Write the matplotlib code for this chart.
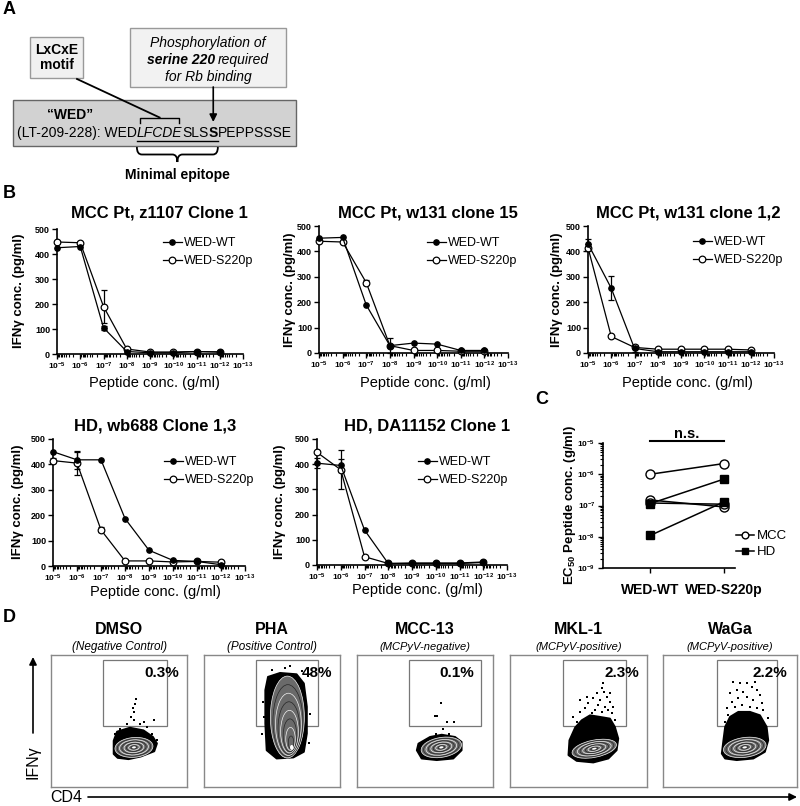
import numpy as np
import matplotlib
matplotlib.use('Agg')
import matplotlib.pyplot as plt
from matplotlib.patches import Rectangle, Ellipse, PathPatch, Polygon
from matplotlib.path import Path
from matplotlib.ticker import LogLocator, NullFormatter, FuncFormatter

plt.rcParams['font.family'] = ['Liberation Sans', 'DejaVu Sans']
plt.rcParams['mathtext.fontset'] = 'custom'
plt.rcParams['mathtext.rm'] = 'Liberation Sans'
plt.rcParams['mathtext.it'] = 'Liberation Sans:italic'
plt.rcParams['mathtext.bf'] = 'Liberation Sans:bold'

### data, panel B (IFNg pg/ml vs peptide g/ml)
conc = [1e-5, 1e-6, 1e-7, 1e-8, 1e-9, 1e-10, 1e-11, 1e-12]
xticks_b = [1e-5, 1e-6, 1e-7, 1e-8, 1e-9, 1e-10, 1e-11, 1e-12, 1e-13]
yticks_b = [0, 100, 200, 300, 400, 500]
titles_b = ['MCC Pt, z1107 Clone 1', 'MCC Pt, w131 clone 15', 'MCC Pt, w131 clone 1,2',
            'HD, wb688 Clone 1,3', 'HD, DA11152 Clone 1']
wt_1 = [425, 430, 105, 10, 5, 5, 10, 8]
wt_1_err = [0, 0, 8, 0, 0, 0, 0, 0]
s_1 = [448, 445, 190, 20, 8, 8, 10, 8]
s_1_err = [0, 0, 65, 0, 0, 0, 0, 0]
wt_2 = [452, 455, 189, 29, 39, 35, 10, 10]
wt_2_err = [0, 0, 0, 0, 0, 0, 0, 0]
s_2 = [440, 437, 277, 29, 10, 10, 7, 7]
s_2_err = [0, 0, 10, 30, 0, 0, 0, 0]
wt_3 = [430, 255, 18, 5, 5, 5, 5, 5]
wt_3_err = [20, 48, 15, 0, 0, 0, 0, 0]
s_3 = [415, 65, 22, 15, 15, 15, 15, 12]
s_3_err = [15, 0, 0, 0, 0, 0, 0, 0]
wt_4 = [450, 418, 418, 187, 62, 22, 18, 5]
wt_4_err = [0, 35, 0, 0, 0, 0, 0, 0]
s_4 = [415, 405, 142, 20, 20, 16, 18, 15]
s_4_err = [10, 45, 10, 0, 0, 0, 0, 0]
wt_5 = [404, 395, 139, 6, 6, 6, 6, 10]
wt_5_err = [20, 25, 0, 0, 0, 0, 0, 0]
s_5 = [447, 378, 33, 6, 8, 8, 8, 12]
s_5_err = [0, 78, 0, 0, 0, 0, 0, 0]

### data, panel C (EC50)
cats_c = ['WED-WT', 'WED-S220p']
yticks_c = [1e-9, 1e-8, 1e-7, 1e-6, 1e-5]
mcc_wt = [1.0e-6, 1.5e-7, 1.2e-7]
mcc_s = [2.2e-6, 9.0e-8, 1.1e-7]
hd_wt = [1.1e-8, 1.15e-7]
hd_s = [1.3e-7, 7.0e-7]

### data, panel D (flow plots, axes fraction units)
flow_names = ['DMSO', 'PHA', 'MCC-13', 'MKL-1', 'WaGa']
flow_sub = ['(Negative Control)', '(Positive Control)', '(MCPyV-negative)', '(MCPyV-positive)', '(MCPyV-positive)']
flow_pct = ['0.3%', '48%', '0.1%', '2.3%', '2.2%']
pct_right = [0.94, 0.94, 0.86, 0.94, 0.93]
gate_left = [0.38, 0.38, 0.38, 0.385, 0.40]
gate_right = [0.85, 0.84, 0.915, 0.85, 0.85]
gate_bottom = [0.46, 0.46, 0.46, 0.46, 0.46]
gate_top = [0.96, 0.96, 0.96, 0.96, 0.96]
blob_cx = [0.61, 0.613, 0.62, 0.615, 0.61]
blob_cy = [0.30, 0.53, 0.30, 0.29, 0.30]
blob_w = [0.28, 0.25, 0.30, 0.33, 0.32]
blob_h = [0.15, 0.62, 0.15, 0.13, 0.15]
blob_ang = [5, 0, 10, 12, 8]
core_x = [0.61, 0.645, 0.62, 0.615, 0.61]
core_y = [0.30, 0.30, 0.30, 0.29, 0.30]
ring_scales = [1.0, 0.88, 0.76, 0.64, 0.52, 0.40, 0.28, 0.16]

cloud_x = [
    [0.46, 0.46, 0.485, 0.58, 0.68, 0.75, 0.78, 0.76, 0.66, 0.57, 0.49],
    [0.45, 0.47, 0.559, 0.681, 0.735, 0.757, 0.757, 0.735, 0.657, 0.534, 0.46, 0.45],
    [0.439, 0.451, 0.537, 0.623, 0.721, 0.770, 0.770, 0.708, 0.586, 0.475],
    [0.426, 0.433, 0.475, 0.523, 0.584, 0.657, 0.730, 0.766, 0.791, 0.779, 0.718, 0.608, 0.487],
    [0.438, 0.450, 0.463, 0.50, 0.562, 0.649, 0.724, 0.774, 0.786, 0.761, 0.674, 0.550, 0.463],
]
cloud_y = [
    [0.25, 0.35, 0.42, 0.45, 0.43, 0.38, 0.33, 0.27, 0.23, 0.21, 0.22],
    [0.734, 0.835, 0.865, 0.855, 0.785, 0.608, 0.405, 0.266, 0.223, 0.215, 0.278, 0.481],
    [0.278, 0.329, 0.38, 0.397, 0.38, 0.342, 0.278, 0.215, 0.203, 0.215],
    [0.241, 0.354, 0.451, 0.506, 0.544, 0.532, 0.519, 0.456, 0.367, 0.278, 0.215, 0.185, 0.197],
    [0.253, 0.354, 0.456, 0.532, 0.570, 0.570, 0.544, 0.456, 0.354, 0.266, 0.215, 0.203, 0.215],
]
dots_x = [
    [0.627, 0.615, 0.60, 0.608, 0.59, 0.613, 0.755, 0.652, 0.559, 0.686, 0.51, 0.473, 0.706, 0.743, 0.78],
    [0.596, 0.632, 0.436, 0.441, 0.78, 0.72, 0.50, 0.77, 0.43],
    [0.62, 0.57, 0.59, 0.66, 0.71, 0.63, 0.68, 0.58],
    [0.676, 0.669, 0.686, 0.633, 0.706, 0.608, 0.657, 0.730, 0.572, 0.645, 0.693, 0.511, 0.547, 0.620,
     0.718, 0.742, 0.511, 0.596, 0.669, 0.462, 0.560, 0.730, 0.766, 0.487, 0.633, 0.754],
    [0.525, 0.575, 0.624, 0.662, 0.50, 0.550, 0.600, 0.699, 0.724, 0.512, 0.562, 0.624, 0.674, 0.736,
     0.475, 0.537, 0.587, 0.649, 0.699, 0.749, 0.488, 0.600, 0.786, 0.463, 0.687],
]
dots_y = [
    [0.663, 0.628, 0.595, 0.57, 0.527, 0.506, 0.506, 0.481, 0.476, 0.491, 0.443, 0.405, 0.451, 0.405, 0.354],
    [0.899, 0.916, 0.646, 0.532, 0.55, 0.88, 0.89, 0.33, 0.40],
    [0.64, 0.54, 0.54, 0.49, 0.49, 0.44, 0.40, 0.405],
    [0.785, 0.747, 0.722, 0.709, 0.684, 0.671, 0.658, 0.646, 0.633, 0.620, 0.608, 0.658, 0.595, 0.582,
     0.582, 0.557, 0.570, 0.557, 0.570, 0.532, 0.684, 0.709, 0.506, 0.494, 0.506, 0.608],
    [0.797, 0.785, 0.790, 0.759, 0.709, 0.734, 0.722, 0.734, 0.696, 0.646, 0.671, 0.684, 0.658, 0.633,
     0.595, 0.608, 0.620, 0.608, 0.595, 0.582, 0.544, 0.570, 0.519, 0.494, 0.797],
]

W, H = 800, 806
fig = plt.figure(figsize=(W / 100, H / 100), dpi=100)
renderer = fig.canvas.get_renderer()


def px_axes(l, t, r, b, **kw):
    return fig.add_axes([l / W, 1 - b / H, (r - l) / W, (b - t) / H], **kw)


# overlay in pixel units for panel A, letters, labels
ov = px_axes(0, 0, W, H, zorder=-1)
ov.set_xlim(0, W)
ov.set_ylim(H, 0)
ov.axis('off')

for s, (x, y) in zip('ABCD', [(3, 9), (3, 193), (535, 400), (3, 617)]):
    ov.text(x, y, s, fontsize=13, weight='bold', va='center', ha='left')

### Panel A
ov.add_patch(Rectangle((30, 37), 53, 41, fc='#f0f0f0', ec='#999999', lw=1))
ov.text(56.5, 57.5, 'LxCxE\nmotif', fontsize=10, weight='bold', ha='center', va='center', linespacing=1.15)
ov.add_patch(Rectangle((130, 28), 156, 59, fc='#f2f2f2', ec='#999999', lw=1))
ov.text(208, 43, 'Phosphorylation of', fontsize=10, style='italic', ha='center', va='center')
t1 = ov.text(0, 60, 'serine 220', fontsize=10, style='italic', weight='bold', ha='left', va='center')
t2 = ov.text(0, 60, 'required', fontsize=10, style='italic', ha='left', va='center')
w1 = t1.get_window_extent(renderer).width
w2 = t2.get_window_extent(renderer).width
x0 = 208 - (w1 + w2 + 3.5) / 2
t1.set_x(x0)
t2.set_x(x0 + w1 + 3.5)
ov.text(208, 77, 'for Rb binding', fontsize=10, style='italic', ha='center', va='center')

ov.add_patch(Rectangle((13, 100), 283, 46, fc='#d2d2d2', ec='#666666', lw=1))
ov.text(70, 115, '\u201cWED\u201d', fontsize=10, weight='bold', ha='center', va='center')
seq_parts = [('(LT-209-228): WED', {}), ('LFCDE', {'style': 'italic'}), ('SLS', {}),
             ('S', {'weight': 'bold'}), ('PEPPSSSE', {})]
x = 17
spans = []
for s, kw in seq_parts:
    t = ov.text(x, 133, s, fontsize=10, ha='left', va='center', **kw)
    w = t.get_window_extent(renderer).width
    spans.append((x, x + w))
    x += w
ov.plot([spans[1][0], spans[3][1]], [140.5, 140.5], color='black', lw=1)
bx0, bx1 = spans[1][0] + 3, spans[1][1] - 3
ov.plot([bx0, bx0, bx1, bx1], [123, 117.5, 117.5, 123], color='black', lw=1)
ov.plot([77, (bx0 + bx1) / 2], [79, 117.5], color='black', lw=1.3)
sx = (spans[3][0] + spans[3][1]) / 2
ov.annotate('', xy=(sx, 122), xytext=(sx, 87),
            arrowprops=dict(arrowstyle='-|>', color='black', lw=1.2, mutation_scale=11, shrinkA=0, shrinkB=0))

# curly brace under the minimal epitope
cx0, cx1 = spans[1][0], spans[3][1]
cy0, ch = 147, 15
cxm, cym = (cx0 + cx1) / 2, cy0 + ch / 2
r = 5
verts = [(cx0, cy0), (cx0, cym), (cx0 + r, cym), (cxm - r, cym), (cxm, cym), (cxm, cy0 + ch),
         (cxm, cym), (cxm + r, cym), (cx1 - r, cym), (cx1, cym), (cx1, cy0)]
codes = [Path.MOVETO, Path.CURVE3, Path.CURVE3, Path.LINETO, Path.CURVE3, Path.CURVE3,
         Path.CURVE3, Path.CURVE3, Path.LINETO, Path.CURVE3, Path.CURVE3]
ov.add_patch(PathPatch(Path(verts, codes), fill=False, lw=1.3, ec='black'))
ov.text(177, 175, 'Minimal epitope', fontsize=10, weight='bold', ha='center', va='center')

### Panel B
b_boxes = [(57, 229, 243, 354), (319, 226, 508, 353), (588, 226, 774, 353),
           (53, 439, 245, 566), (317, 439, 507, 565)]
b_title_pos = [(159, 213), (428, 213), (688, 213), (155, 426), (427, 426)]
b_xlab_pos = [(154, 383), (425, 383), (687, 383), (155, 592), (417, 590)]
b_ylab_pos = [(19, 291), (290, 290), (557, 290), (18, 502), (280, 502)]
b_leg_pos = [(163, 237), (427, 237), (693, 236), (164, 456), (418, 456)]
b_data = [(wt_1, wt_1_err, s_1, s_1_err), (wt_2, wt_2_err, s_2, s_2_err), (wt_3, wt_3_err, s_3, s_3_err),
          (wt_4, wt_4_err, s_4, s_4_err), (wt_5, wt_5_err, s_5, s_5_err)]

decade_fmt = FuncFormatter(lambda v, p: r'$\mathbf{10^{%d}}$' % round(np.log10(v)))

for i in range(5):
    l, t, rr, b = b_boxes[i]
    ax = px_axes(l, t, rr, b)
    ax.patch.set_alpha(0)
    wt, wt_err, s, s_err = b_data[i]
    xa = np.array(conc)
    ax.plot(xa, wt, color='black', lw=0.9, marker='o', ms=3.8, label='WED-WT', clip_on=False, zorder=4)
    ax.plot(xa, s, color='black', lw=0.9, marker='o', ms=4.8, mfc='white', mew=0.9, label='WED-S220p',
            clip_on=False, zorder=3)
    for yy, ee in [(wt, wt_err), (s, s_err)]:
        yy, ee = np.array(yy, float), np.array(ee, float)
        m = ee > 0
        if m.any():
            ax.errorbar(xa[m], yy[m], yerr=ee[m], fmt='none', ecolor='black', elinewidth=0.9,
                        capsize=2.5, capthick=0.9, zorder=2, clip_on=False)
    ax.set_xscale('log')
    ax.set_xlim(xticks_b[0], xticks_b[-1])
    ax.set_ylim(yticks_b[0], yticks_b[-1])
    ax.set_xticks(xticks_b)
    ax.xaxis.set_minor_locator(LogLocator(base=10, subs=np.arange(2, 10), numticks=20))
    ax.xaxis.set_minor_formatter(NullFormatter())
    ax.xaxis.set_major_formatter(decade_fmt)
    ax.set_yticks(yticks_b)
    for sp in ['top', 'right']:
        ax.spines[sp].set_visible(False)
    for sp in ['left', 'bottom']:
        ax.spines[sp].set_linewidth(1.2)
    ax.tick_params(axis='both', which='major', direction='out', width=1, length=3.5, pad=1.5)
    ax.tick_params(axis='x', which='minor', direction='out', width=0.8, length=2)
    ax.tick_params(axis='x', labelsize=6)
    ax.tick_params(axis='y', labelsize=6.5)
    for lab in ax.get_yticklabels():
        lab.set_fontweight('bold')
    lx, ly = b_leg_pos[i]
    ax.legend(loc='upper left', bbox_to_anchor=((lx - l) / (rr - l), 1 - (ly - t) / (b - t)),
              frameon=False, fontsize=9, handlelength=1.5, handletextpad=0.2, labelspacing=0.5,
              borderaxespad=0, borderpad=0)
    ov.text(*b_title_pos[i], titles_b[i], fontsize=12, weight='bold', ha='center', va='center')
    ov.text(*b_xlab_pos[i], 'Peptide conc. (g/ml)', fontsize=10.5, ha='center', va='center')
    ov.text(*b_ylab_pos[i], 'IFN\u03b3 conc. (pg/ml)', fontsize=9.5, weight='bold', ha='center', va='center',
            rotation=90)

### Panel C
axc = px_axes(603, 443, 735, 568)
axc.patch.set_alpha(0)
xc = np.arange(len(cats_c))
for k, (a, b2) in enumerate(zip(mcc_wt, mcc_s)):
    axc.plot(xc, [a, b2], color='black', lw=1.1, marker='o', ms=6.5, mfc='white', mew=1,
             label='MCC' if k == 0 else None, clip_on=False, zorder=3)
for k, (a, b2) in enumerate(zip(hd_wt, hd_s)):
    axc.plot(xc, [a, b2], color='black', lw=1.1, marker='s', ms=5.5,
             label='HD' if k == 0 else None, clip_on=False, zorder=4)
axc.set_yscale('log')
axc.set_ylim(yticks_c[0], yticks_c[-1])
axc.set_xlim(-0.64, 1.15)
axc.set_yticks(yticks_c)
axc.yaxis.set_minor_locator(LogLocator(base=10, subs=np.arange(2, 10), numticks=20))
axc.yaxis.set_minor_formatter(NullFormatter())
axc.yaxis.set_major_formatter(decade_fmt)
axc.set_xticks(xc)
axc.set_xticklabels(cats_c, fontsize=10, weight='bold')
for sp in ['top', 'right']:
    axc.spines[sp].set_visible(False)
for sp in ['left', 'bottom']:
    axc.spines[sp].set_linewidth(1.2)
axc.tick_params(axis='both', which='major', direction='out', width=1, length=3.5, pad=2)
axc.tick_params(axis='y', which='minor', direction='out', width=0.8, length=2)
axc.tick_params(axis='y', labelsize=6)
axc.tick_params(axis='x', pad=7)
axc.plot(xc, [1.18e-5, 1.18e-5], color='black', lw=1.5, clip_on=False)
axc.text(xc.mean(), 2.0e-5, 'n.s.', fontsize=10.5, weight='bold', ha='center', va='center')
axc.legend(loc='upper left', bbox_to_anchor=((736 - 603) / 132, 1 - (530 - 443) / 125), frameon=False,
           fontsize=9.5, handlelength=1.4, handletextpad=0.2, labelspacing=0.3, borderaxespad=0, borderpad=0,
           markerscale=0.75)
ov.text(570, 505, r'EC$_{\mathbf{50}}$ Peptide conc. (g/ml)', fontsize=9.5, weight='bold', ha='center',
        va='center', rotation=90)

### Panel D
f_boxes = [(51, 187), (204, 340), (357, 493), (510, 647), (663, 797)]
f_top, f_bot = 655, 787
for i in range(5):
    l, rr = f_boxes[i]
    ax = px_axes(l, f_top, rr, f_bot)
    ax.set_xlim(0, 1)
    ax.set_ylim(0, 1)
    ax.set_xticks([])
    ax.set_yticks([])
    for sp in ax.spines.values():
        sp.set_color('#888888')
        sp.set_linewidth(1)
    ax.add_patch(Rectangle((gate_left[i], gate_bottom[i]), gate_right[i] - gate_left[i],
                           gate_top[i] - gate_bottom[i], fill=False, ec='#777777', lw=0.9))
    ax.add_patch(Polygon(np.column_stack([cloud_x[i], cloud_y[i]]), closed=True, fc='black', ec='black',
                         lw=1.2, joinstyle='round'))
    ax.plot(dots_x[i], dots_y[i], 's', color='black', ms=2.0, mew=0)
    for j, sc in enumerate(ring_scales):
        ccx = core_x[i] + sc * (blob_cx[i] - core_x[i])
        ccy = core_y[i] + sc * (blob_cy[i] - core_y[i])
        ax.add_patch(Ellipse((ccx, ccy), blob_w[i] * sc, blob_h[i] * sc, angle=blob_ang[i],
                             fc='#6a6a6a' if j == 0 else 'none',
                             ec='#f2f2f2' if j % 2 == 0 else '#262626', lw=0.5))
    ax.add_patch(Ellipse((core_x[i], core_y[i]), blob_w[i] * 0.1, blob_h[i] * 0.06 if i == 1 else blob_h[i] * 0.1,
                         angle=blob_ang[i], fc='white', ec='none'))
    ax.text(pct_right[i], 0.86, flow_pct[i], fontsize=11, weight='bold', ha='right', va='center')
    ov.text((l + rr) / 2, 630, flow_names[i], fontsize=11.5, weight='bold', ha='center', va='center')
    ov.text((l + rr) / 2, 647, flow_sub[i], fontsize=8.5 if i < 2 else 8, style='italic',
            ha='center', va='center')

ov.annotate('', xy=(33, 657), xytext=(33, 733),
            arrowprops=dict(arrowstyle='-|>', color='black', lw=1.2, mutation_scale=11, shrinkA=0, shrinkB=0))
ov.text(33, 762, 'IFN\u03b3', fontsize=11.5, rotation=90, ha='center', va='center')
ov.text(50, 798, 'CD4', fontsize=11.5, ha='left', va='center')
ov.annotate('', xy=(797, 797), xytext=(88, 797),
            arrowprops=dict(arrowstyle='-|>', color='black', lw=1.2, mutation_scale=11, shrinkA=0, shrinkB=0))

fig.savefig('out.png', dpi=100, facecolor='white')
